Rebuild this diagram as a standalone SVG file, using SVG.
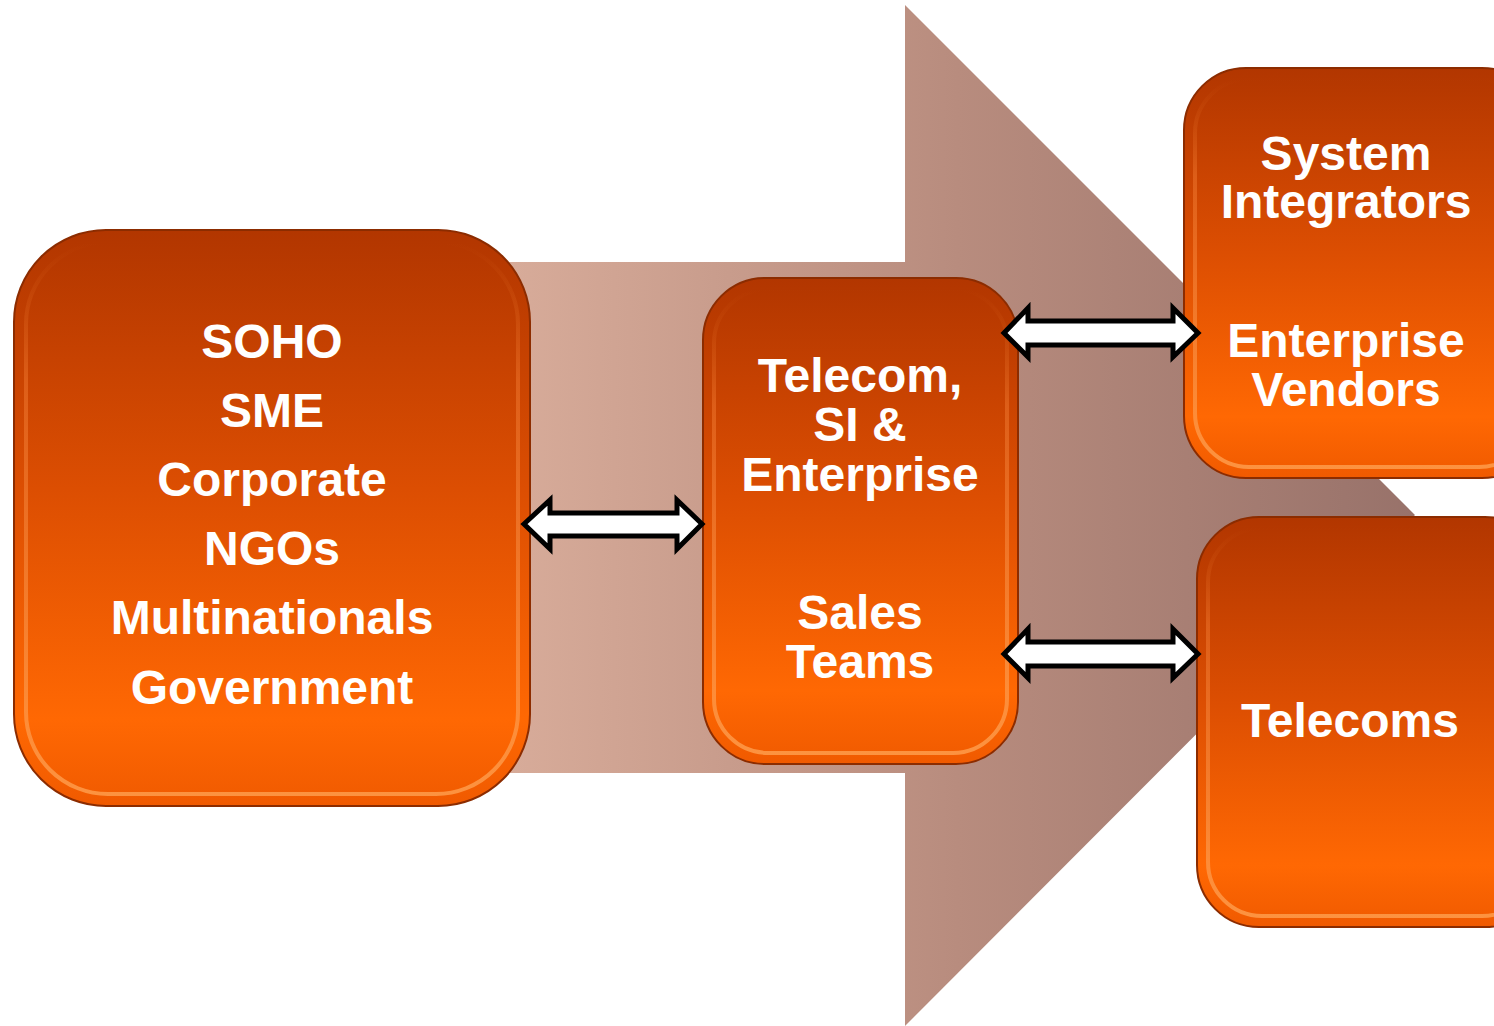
<svg xmlns="http://www.w3.org/2000/svg" width="1494" height="1026" viewBox="0 0 1494 1026">
<defs>
<linearGradient id="bgArrow" x1="0" y1="0" x2="1" y2="0">
<stop offset="0" stop-color="#d8ac9a"/>
<stop offset="0.5" stop-color="#b88c7e"/>
<stop offset="1" stop-color="#98726a"/>
</linearGradient>
<linearGradient id="orange" x1="0" y1="0" x2="0" y2="1">
<stop offset="0" stop-color="#b23600"/>
<stop offset="0.45" stop-color="#dc4e02"/>
<stop offset="0.85" stop-color="#ff6803"/>
<stop offset="1" stop-color="#f05a00"/>
</linearGradient>
<linearGradient id="bevel" x1="0" y1="0" x2="0" y2="1">
<stop offset="0" stop-color="#d9641c" stop-opacity="0"/>
<stop offset="0.25" stop-color="#f07830" stop-opacity="0.5"/>
<stop offset="1" stop-color="#ffa050" stop-opacity="0.8"/>
</linearGradient>
<style>
.box{fill:url(#orange);stroke:#8c2c00;stroke-width:2}
.bev{fill:none;stroke:url(#bevel);stroke-width:4}
.lbl{font-family:"Liberation Sans",Arial,sans-serif;font-weight:bold;font-size:48px;fill:#ffffff;text-anchor:middle}
.dbl{fill:#ffffff;stroke:#000000;stroke-width:5;stroke-linejoin:miter}
</style>
</defs>
<rect width="1494" height="1026" fill="#ffffff"/>
<g id="background-arrow">
<polygon points="500,262 905,262 905,5 1415,515 905,1026 905,773 500,773" fill="url(#bgArrow)"/>
</g>
<g id="node-customers">
<rect class="box" x="14" y="230" width="516" height="576" rx="92" ry="92"/>
<rect class="bev" x="26" y="242" width="492" height="552" rx="82" ry="82"/>
<text class="lbl" x="272" y="358">SOHO</text>
<text class="lbl" x="272" y="427">SME</text>
<text class="lbl" x="272" y="496">Corporate</text>
<text class="lbl" x="272" y="565">NGOs</text>
<text class="lbl" x="272" y="634">Multinationals</text>
<text class="lbl" x="272" y="704">Government</text>
</g>
<g id="node-sales">
<rect class="box" x="703" y="278" width="315" height="486" rx="62" ry="62"/>
<rect class="bev" x="714" y="289" width="293" height="464" rx="54" ry="54"/>
<text class="lbl" x="860" y="392">Telecom,</text>
<text class="lbl" x="860" y="441">SI &amp;</text>
<text class="lbl" x="860" y="491">Enterprise</text>
<text class="lbl" x="860" y="629">Sales</text>
<text class="lbl" x="860" y="678">Teams</text>
</g>
<g id="node-si-vendors">
<rect class="box" x="1184" y="68" width="360" height="410" rx="62" ry="62"/>
<rect class="bev" x="1195" y="79" width="338" height="388" rx="54" ry="54"/>
<text class="lbl" x="1346" y="170">System</text>
<text class="lbl" x="1346" y="218">Integrators</text>
<text class="lbl" x="1346" y="357">Enterprise</text>
<text class="lbl" x="1346" y="406">Vendors</text>
</g>
<g id="node-telecoms">
<rect class="box" x="1197" y="517" width="350" height="410" rx="62" ry="62"/>
<rect class="bev" x="1208" y="528" width="328" height="388" rx="54" ry="54"/>
<text class="lbl" x="1350" y="737">Telecoms</text>
</g>
<g id="connectors">
<polygon class="dbl" points="524,524 550,500 550,513 677,513 677,500 702,524 677,549 677,536 550,536 550,549"/>
<polygon class="dbl" points="1004,333 1028,308 1028,321 1173,321 1173,308 1198,333 1173,357 1173,345 1028,345 1028,357"/>
<polygon class="dbl" points="1004,654 1028,629 1028,642 1173,642 1173,629 1198,654 1173,678 1173,666 1028,666 1028,678"/>
</g>
</svg>
